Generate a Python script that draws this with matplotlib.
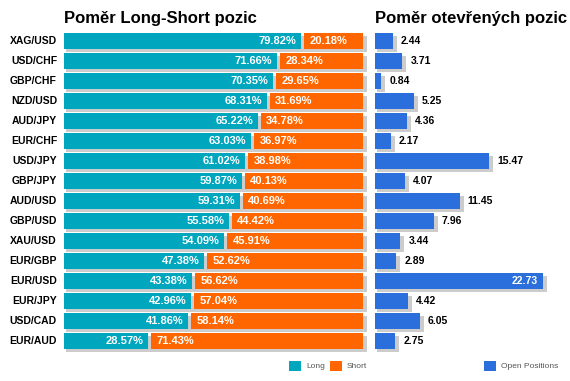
import matplotlib
matplotlib.use("Agg")
import matplotlib.pyplot as plt
from matplotlib.patches import Rectangle

plt.rcParams['font.family'] = ['Liberation Sans', 'DejaVu Sans']

pairs = ["XAG/USD", "USD/CHF", "GBP/CHF", "NZD/USD", "AUD/JPY", "EUR/CHF", "USD/JPY",
         "GBP/JPY", "AUD/USD", "GBP/USD", "XAU/USD", "EUR/GBP", "EUR/USD", "EUR/JPY",
         "USD/CAD", "EUR/AUD"]
long_pct = [79.82, 71.66, 70.35, 68.31, 65.22, 63.03, 61.02, 59.87, 59.31, 55.58,
            54.09, 47.38, 43.38, 42.96, 41.86, 28.57]
short_pct = [20.18, 28.34, 29.65, 31.69, 34.78, 36.97, 38.98, 40.13, 40.69, 44.42,
             45.91, 52.62, 56.62, 57.04, 58.14, 71.43]
open_pos = [2.44, 3.71, 0.84, 5.25, 4.36, 2.17, 15.47, 4.07, 11.45, 7.96, 3.44, 2.89,
            22.73, 4.42, 6.05, 2.75]

C_LONG = "#00a5be"
C_SHORT = "#ff6600"
C_OPEN = "#2a6fdb"
C_SHADOW = "#cccccc"

W, H = 570, 381
fig = plt.figure(figsize=(W / 100, H / 100), dpi=100)

n = len(pairs)
row_px = 20
top_px = 31
ax_h = n * row_px

def fy(px):
    return 1 - px / H

# left axes
L0, L1 = 64, 363
axL = fig.add_axes([L0 / W, fy(top_px + ax_h), (L1 - L0) / W, ax_h / H])
axL.set_xlim(0, 100)
axL.set_ylim(n - 0.5, -0.5)
axL.axis("off")
pxx_L = 100 / (L1 - L0)
pxy = 1 / row_px
bh = 0.84
sx0, sx1, sdy = 2, 4, 3
for i in range(n):
    y = i
    axL.add_patch(Rectangle((sx0 * pxx_L, y - bh / 2 + sdy * pxy), 100 + (sx1 - sx0) * pxx_L, bh,
                            facecolor=C_SHADOW, edgecolor="none", zorder=1, clip_on=False))
    axL.add_patch(Rectangle((0, y - bh / 2), long_pct[i] - 1.5 * pxx_L, bh,
                            facecolor=C_LONG, edgecolor="none", zorder=2, clip_on=False))
    axL.add_patch(Rectangle((long_pct[i] + 1.5 * pxx_L, y - bh / 2),
                            short_pct[i] - 1.5 * pxx_L, bh,
                            facecolor=C_SHORT, edgecolor="none", zorder=2, clip_on=False))
    axL.text(long_pct[i] - 6 * pxx_L, y, f"{long_pct[i]:.2f}%", color="white",
             fontsize=8, fontweight="bold", ha="right", va="center", zorder=3)
    axL.text(long_pct[i] + 7 * pxx_L, y, f"{short_pct[i]:.2f}%", color="white",
             fontsize=8, fontweight="bold", ha="left", va="center", zorder=3)
    axL.text(-7 * pxx_L, y, pairs[i], color="black", fontsize=7.5, fontweight="bold",
             ha="right", va="center")

# right axes
R0 = 375
ppu = 7.39
R1 = 560
axR = fig.add_axes([R0 / W, fy(top_px + ax_h), (R1 - R0) / W, ax_h / H])
xmax = (R1 - R0) / ppu
axR.set_xlim(0, xmax)
axR.set_ylim(n - 0.5, -0.5)
axR.axis("off")
pxx_R = 1 / ppu
for i in range(n):
    y = i
    v = open_pos[i]
    axR.add_patch(Rectangle((sx0 * pxx_R, y - bh / 2 + sdy * pxy), v + (sx1 - sx0) * pxx_R, bh,
                            facecolor=C_SHADOW, edgecolor="none", zorder=1, clip_on=False))
    axR.add_patch(Rectangle((0, y - bh / 2), v, bh,
                            facecolor=C_OPEN, edgecolor="none", zorder=2, clip_on=False))
    if v + 40 * pxx_R > xmax:
        axR.text(v - 5 * pxx_R, y, f"{v:.2f}", color="white", fontsize=7.5,
                 fontweight="bold", ha="right", va="center", zorder=3)
    else:
        axR.text(v + 8 * pxx_R, y, f"{v:.2f}", color="black", fontsize=7.5,
                 fontweight="bold", ha="left", va="center", zorder=3)

# titles
fig.text(L0 / W, fy(18), "Poměr Long-Short pozic", fontsize=12, fontweight="bold",
         ha="left", va="center")
fig.text(R0 / W, fy(18), "Poměr otevřených pozic", fontsize=12, fontweight="bold",
         ha="left", va="center")

# legend
def legend_item(x, label, color):
    fig.patches.append(Rectangle((x / W, fy(371)), 12 / W, 10 / H, facecolor=color,
                                 edgecolor="none", transform=fig.transFigure, figure=fig))
    fig.text((x + 17) / W, fy(366), label, fontsize=6, color="#555555",
             ha="left", va="center")

legend_item(289, "Long", C_LONG)
legend_item(330, "Short", C_SHORT)
legend_item(484, "Open Positions", C_OPEN)

fig.savefig("out.png", dpi=100)
